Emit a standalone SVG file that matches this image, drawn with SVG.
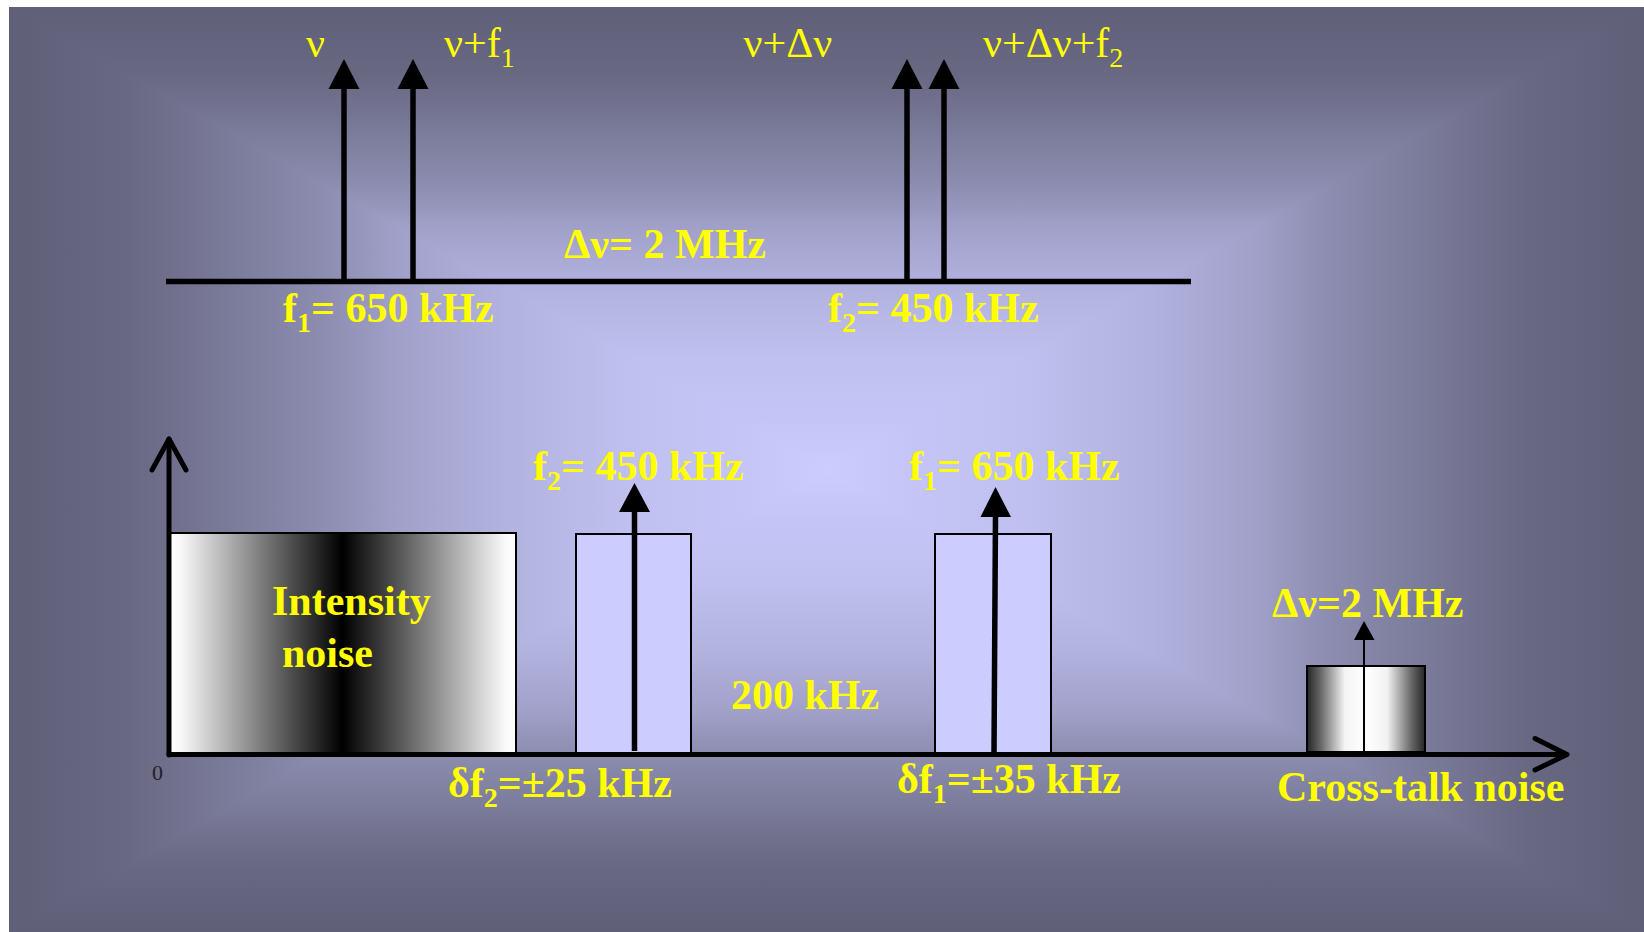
<svg xmlns="http://www.w3.org/2000/svg" width="1644" height="932" viewBox="0 0 1644 932">
<defs>
<style>
.t{font-family:"Liberation Serif","Times New Roman",serif;font-size:42px;fill:#FFFF00;}
.b{font-weight:bold;}
.ln{stroke:#000;stroke-width:5.5;fill:none;}
.ax{stroke:#000;stroke-width:5;fill:none;stroke-linecap:round;stroke-linejoin:round;}
.hd{fill:#000;stroke:none;}
.box{stroke:#000;stroke-width:2;}
</style>
<linearGradient id="gH" gradientUnits="userSpaceOnUse" x1="9" y1="0" x2="1644" y2="0">
<stop offset="0" stop-color="rgb(95,95,120)"/>
<stop offset="0.0715" stop-color="rgb(104,104,131)"/>
<stop offset="0.123" stop-color="rgb(119,119,150)"/>
<stop offset="0.1875" stop-color="rgb(139,139,174)"/>
<stop offset="0.238" stop-color="rgb(160,160,201)"/>
<stop offset="0.302" stop-color="rgb(178,178,223)"/>
<stop offset="0.3795" stop-color="rgb(192,192,240)"/>
<stop offset="0.4435" stop-color="rgb(196,196,246)"/>
<stop offset="0.5" stop-color="rgb(204,204,255)"/>
<stop offset="0.5565" stop-color="rgb(196,196,246)"/>
<stop offset="0.6205" stop-color="rgb(192,192,240)"/>
<stop offset="0.698" stop-color="rgb(178,178,223)"/>
<stop offset="0.762" stop-color="rgb(160,160,201)"/>
<stop offset="0.8125" stop-color="rgb(139,139,174)"/>
<stop offset="0.877" stop-color="rgb(119,119,150)"/>
<stop offset="0.9285" stop-color="rgb(104,104,131)"/>
<stop offset="1" stop-color="rgb(95,95,120)"/>
</linearGradient>
<linearGradient id="gV" href="#gH" gradientUnits="userSpaceOnUse" x1="0" y1="7" x2="0" y2="932"/>
<linearGradient id="gInt" x1="0" y1="0" x2="1" y2="0">
<stop offset="0" stop-color="#ffffff"/>
<stop offset="0.03" stop-color="#fafafa"/>
<stop offset="0.5" stop-color="#000000"/>
<stop offset="0.97" stop-color="#fafafa"/>
<stop offset="1" stop-color="#ffffff"/>
</linearGradient>
<linearGradient id="gCt" x1="0" y1="0" x2="1" y2="0">
<stop offset="0" stop-color="#262626"/>
<stop offset="0.12" stop-color="#6a6a6a"/>
<stop offset="0.32" stop-color="#f4f4f4"/>
<stop offset="0.5" stop-color="#ffffff"/>
<stop offset="0.68" stop-color="#f2f2f2"/>
<stop offset="0.88" stop-color="#6a6a6a"/>
<stop offset="1" stop-color="#262626"/>
</linearGradient>
</defs>
<g id="background">
<rect x="0" y="0" width="1644" height="932" fill="#ffffff"/>
<rect x="9" y="7" width="1635" height="925" fill="url(#gH)"/>
<polygon points="9,7 1644,7 826.5,469.5" fill="url(#gV)"/>
<polygon points="9,932 1644,932 826.5,469.5" fill="url(#gV)"/>
</g>
<g id="node-intensity">
<rect class="box" x="169" y="533" width="347" height="220" fill="url(#gInt)"/>
<text class="t b" x="272" y="615">Intensity</text>
<text class="t b" x="282" y="667">noise</text>
</g>
<g id="node-f2-band">
<rect class="box" x="576" y="534" width="115" height="219" fill="#CCCCFF"/>
</g>
<g id="node-f1-band">
<rect class="box" x="935" y="534" width="116" height="219" fill="#CCCCFF"/>
</g>
<g id="node-crosstalk">
<rect class="box" x="1307" y="666" width="118" height="86" fill="url(#gCt)"/>
</g>
<g id="connectors">
<line class="ln" x1="166" y1="281.5" x2="1191" y2="281.5"/>
<line class="ln" x1="344" y1="281" x2="344" y2="86"/>
<polygon class="hd" points="344,59 328.5,89 359.5,89"/>
<line class="ln" x1="413" y1="281" x2="413" y2="86"/>
<polygon class="hd" points="413,59 397.5,89 428.5,89"/>
<line class="ln" x1="907" y1="281" x2="907" y2="86"/>
<polygon class="hd" points="907,59 891.5,89 922.5,89"/>
<line class="ln" x1="944" y1="281" x2="944" y2="86"/>
<polygon class="hd" points="944,59 928.5,89 959.5,89"/>
<polyline class="ax" points="169,755 169,439"/>
<polyline class="ax" points="152,470 169,439 186,470"/>
<polyline class="ax" points="169,754.5 1566,754.5"/>
<polyline class="ax" points="1535,738.5 1567,754.5 1535,770"/>
<line class="ln" x1="634.5" y1="751" x2="634.5" y2="509"/>
<polygon class="hd" points="634.5,483 619,512 650,512"/>
<line class="ln" x1="994" y1="753" x2="995.5" y2="514"/>
<polygon class="hd" points="995.5,487 980.5,517 1011,517"/>
<line stroke="#000" stroke-width="2" x1="1364" y1="752" x2="1364" y2="638"/>
<polygon class="hd" points="1364,621 1354,640 1374.5,640"/>
</g>
<g id="labels">
<text class="t" x="306" y="57">ν</text>
<text class="t" x="444" y="57">ν+f<tspan font-size="28" dy="10">1</tspan></text>
<text class="t" x="743.5" y="57">ν+Δν</text>
<text class="t" x="983" y="57">ν+Δν+f<tspan font-size="28" dy="10">2</tspan></text>
<text class="t b" x="564" y="258">Δν= 2 MHz</text>
<text class="t b" x="283" y="321.7">f<tspan font-size="28" dy="10">1</tspan><tspan dy="-10">= 650 kHz</tspan></text>
<text class="t b" x="828" y="321.7">f<tspan font-size="28" dy="10">2</tspan><tspan dy="-10">= 450 kHz</tspan></text>
<text class="t b" x="533" y="480">f<tspan font-size="28" dy="10">2</tspan><tspan dy="-10">= 450 kHz</tspan></text>
<text class="t b" x="909" y="480">f<tspan font-size="28" dy="10">1</tspan><tspan dy="-10">= 650 kHz</tspan></text>
<text class="t b" x="731" y="709">200 kHz</text>
<text class="t b" x="448" y="797">δf<tspan font-size="28" dy="10">2</tspan><tspan dy="-10">=±25 kHz</tspan></text>
<text class="t b" x="897" y="793">δf<tspan font-size="28" dy="10">1</tspan><tspan dy="-10">=±35 kHz</tspan></text>
<text class="t b" x="1272" y="617">Δν=2 MHz</text>
<text class="t b" x="1277" y="801">Cross-talk noise</text>
<text x="152" y="780" font-family="Liberation Serif, serif" font-size="22" fill="#222">0</text>
</g>
</svg>
